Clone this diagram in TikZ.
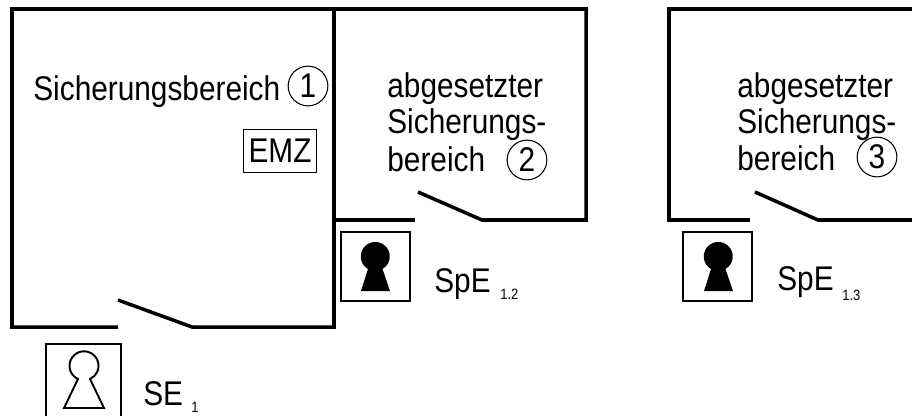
\documentclass[tikz,border=0pt]{standalone}
\usepackage{fontspec}
\setmainfont[FakeStretch=0.87]{Liberation Sans}
\tikzset{
  wall/.style={line width=2pt,line cap=butt,line join=miter},
  frame/.style={line width=0.6pt},
  lbl/.style={anchor=base west,inner sep=0pt,font=\fontsize{19.5}{22}\selectfont},
  idx/.style={anchor=base west,inner sep=0pt,font=\fontsize{8.5}{10}\selectfont},
  num/.style={draw,circle,line width=0.6pt,minimum size=22.6pt,inner sep=0pt,font=\fontsize{19.5}{22}\selectfont},
  keyopen/.style={line width=1.1pt,line join=miter},
  keyfull/.style={fill=black,draw=none}
}
\begin{document}
\begin{tikzpicture}[x=0.02cm,y=-0.02cm]
\useasboundingbox (0,0) rectangle (912,416);
\clip (0,0) rectangle (912,416);
% Sicherungsbereich 1
\draw[wall] (118,327) -- (12,327) -- (12,9) -- (334,9) -- (334,327) -- (192,327) -- (118,300);
\node[lbl] (s1) at (33,100) {Sicherungsbereich};
\node[num] (n1) at (308,86) {1};
\node[draw,frame,minimum width=42pt,minimum height=25pt,inner sep=0pt,font=\fontsize{19.5}{22}\selectfont] (emz) at (280,151) {EMZ};
% abgesetzt 2
\draw[wall] (334,9) -- (586,9) -- (586,220) -- (482,220) -- (418,192);
\draw[wall] (334,220) -- (415,220);
\node[lbl] (a2) at (387,97) {abgesetzter};
\node[lbl] (b2) at (387,133) {Sicherungs-};
\node[lbl] (c2) at (387,171) {bereich};
\node[num] (n2) at (527,160) {2};
% abgesetzt 3
\draw[wall] (912,9) -- (669,9) -- (669,220) -- (750,220);
\draw[wall] (912,220) -- (818,220) -- (755,192);
\node[lbl] (a3) at (737,97) {abgesetzter};
\node[lbl] (b3) at (737,133) {Sicherungs-};
\node[lbl] (c3) at (737,170) {bereich};
\node[num] (n3) at (877,157) {3};
% SE 1
\draw[frame,line width=1pt] (46,416) -- (46,344) -- (121,344) -- (121,416);
\draw[keyopen] (78,379) arc[start angle=114.5,end angle=425.5,radius=14.5] -- (104,408) -- (64,408) -- cycle;
\node[lbl] (se) at (143,405) {SE};
\node[idx] (se1) at (191,412) {1};
% SpE 1.2
\draw[frame] (341,232) rectangle (410,301);
\fill[keyfull] (368,269) arc[start angle=120,end angle=420,radius=14.5] -- (390,291) -- (361,291) -- cycle;
\node[lbl] (sp2) at (434,292) {SpE};
\node[idx] (sp21) at (500,299) {1.2};
% SpE 1.3
\draw[frame] (683,232) rectangle (752,301);
\fill[keyfull] (711,269) arc[start angle=120,end angle=420,radius=14.5] -- (733,291) -- (704,291) -- cycle;
\node[lbl] (sp3) at (777,290) {SpE};
\node[idx] (sp31) at (842,300) {1.3};
\end{tikzpicture}
\end{document}
